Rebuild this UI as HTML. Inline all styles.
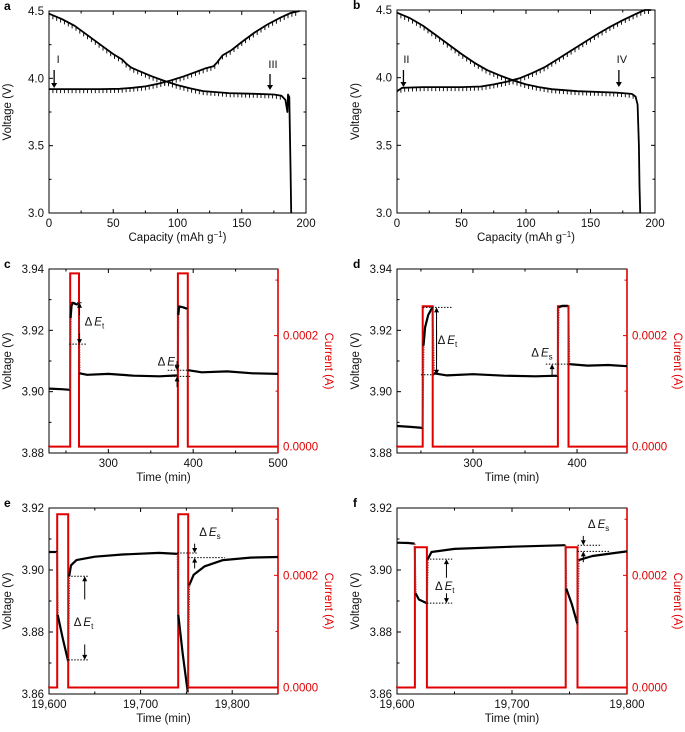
<!DOCTYPE html>
<html><head><meta charset="utf-8"><style>
html,body{margin:0;padding:0;background:#fff}
svg{display:block;font-family:"Liberation Sans",Arial,sans-serif}
</style></head><body>
<svg id="fig" width="685" height="732" viewBox="0 0 685 732"></svg>
<script>
// ---------- Panel a/b data (capacity mAh/g, voltage V) ----------
const aCharge = [[0,3.92],[20,3.92],[40,3.92],[55,3.922],[65,3.93],[75,3.94],[85,3.96],[95,3.985],[105,4.015],[115,4.05],[122,4.075],[128,4.09],[131,4.12],[135,4.17],[142,4.21],[150,4.27],[160,4.34],[170,4.40],[180,4.45],[188,4.485],[195,4.5]];
const aDischarge = [[0,4.48],[10,4.44],[20,4.39],[30,4.32],[40,4.25],[50,4.18],[57,4.14],[60,4.11],[64,4.08],[70,4.055],[80,4.015],[90,3.98],[100,3.95],[110,3.925],[120,3.905],[140,3.89],[160,3.885],[175,3.88],[181,3.87],[184,3.84],[185.5,3.75],[186,3.88],[187,3.86],[187.5,3.6],[188,3.3],[188.5,3.0]];
const bCharge = [[0,3.90],[4,3.925],[20,3.93],[50,3.93],[65,3.935],[75,3.95],[85,3.97],[95,3.995],[105,4.035],[115,4.08],[125,4.14],[135,4.2],[145,4.26],[155,4.32],[165,4.375],[175,4.425],[185,4.47],[192,4.5],[197,4.5]];
const bDischarge = [[0,4.48],[10,4.44],[20,4.385],[30,4.315],[40,4.245],[50,4.175],[60,4.11],[70,4.055],[80,4.015],[90,3.98],[100,3.95],[110,3.93],[120,3.915],[140,3.9],[170,3.89],[182,3.88],[185,3.86],[186.5,3.8],[187.5,3.5],[188,3.2],[188.5,3.0]];
const capTicks = [0,50,100,150,200];
const capMinor = [25,75,125,175];
const vTicksAB = [3.0,3.5,4.0,4.5];
const vMinorAB = [3.25,3.75,4.25];

// ---------- Panel c data ----------
const cSegs = [
 [[230,3.901],[245,3.9008],[254.8,3.9006]],
 [[255.5,3.924],[256.5,3.928],[258,3.929],[262,3.9285],[265.2,3.9285]],
 [[266,3.906],[275,3.9055],[300,3.9058],[330,3.9052],[360,3.905],[381.8,3.9053]],
 [[382.5,3.925],[383.5,3.9278],[388,3.9275],[393.4,3.927]],
 [[394,3.907],[410,3.9063],[440,3.9066],[470,3.906],[500,3.9058]]
];
const cCurT = [230,255,265.4,382,393.6,500];
const cCurI = [0,0.000312,0,0.000312,0];
// ---------- Panel d data ----------
const dSegs = [
 [[227,3.8888],[240,3.8885],[251.5,3.8882]],
 [[252.5,3.915],[254,3.921],[257,3.925],[261,3.9275]],
 [[262.5,3.906],[275,3.9053],[300,3.9057],[330,3.9052],[360,3.905],[381.4,3.9052]],
 [[382.3,3.9275],[386,3.928],[391.6,3.928]],
 [[392.5,3.909],[410,3.9085],[430,3.9087],[448,3.9083]]
];
const dCurT = [227,251.7,261.3,381.6,391.8,448];
const dCurI = [0,0.000253,0,0.000253,0];
// ---------- Panel e data ----------
const eSegs = [
 [[19600,3.9058],[19608.8,3.9058]],
 [[19609.5,3.8855],[19615,3.878],[19621,3.8705]],
 [[19622,3.898],[19624,3.9015],[19630,3.9032],[19650,3.9043],[19680,3.905],[19720,3.9055],[19740.5,3.9052]],
 [[19741.2,3.8855],[19746,3.873],[19751.5,3.8605]],
 [[19753,3.895],[19758,3.8985],[19770,3.9012],[19790,3.9032],[19820,3.904],[19850,3.9042]]
];
const eCurT = [19600,19609,19621,19741,19752,19850];
const eCurI = [0,0.000309,0,0.000309,0];
// ---------- Panel f data ----------
const fSegs = [
 [[19600,3.9088],[19610,3.9087],[19615.3,3.9085]],
 [[19616.2,3.8925],[19619,3.8905],[19626,3.8893]],
 [[19626.8,3.9035],[19630,3.9058],[19650,3.9068],[19700,3.9075],[19746.4,3.908]],
 [[19747.2,3.894],[19752,3.889],[19757,3.8825]],
 [[19758,3.9032],[19770,3.9045],[19790,3.9055],[19800,3.906]]
];
const fCurT = [19600,19615.6,19626,19746.7,19757,19800];
const fCurI = [0,0.00025,0,0.00025,0];

const vTicksCD = [3.88,3.90,3.92,3.94];
const vMinorCD = [3.89,3.91,3.93];
const vTicksEF = [3.86,3.88,3.90,3.92];
const vMinorEF = [3.87,3.89,3.91];
const curTicks = [0,0.0002];
const curTickLabels = ["0.0000","0.0002"];
const curMinor = [0.0001,0.0003];

const NS = "http://www.w3.org/2000/svg";
const svg = document.getElementById("fig");
function el(tag, attrs, parent){
  const e = document.createElementNS(NS, tag);
  for (const k in attrs) e.setAttribute(k, attrs[k]);
  (parent||svg).appendChild(e);
  return e;
}
function lin(d0,d1,r0,r1){return v=>r0+(v-d0)/(d1-d0)*(r1-r0);}

function axes(P){
  const g = el("g",{});
  
  
  P.g = g;
  P.x = lin(P.xd[0],P.xd[1],P.l,P.r);
  P.y = lin(P.yd[0],P.yd[1],P.b,P.t);
  const fr = el("rect",{x:P.l,y:P.t,width:P.r-P.l,height:P.b-P.t,fill:"none",stroke:"#000","stroke-width":1},g);
  
  
  P.xt.forEach((v,i)=>{
    const X=P.x(v);
    el("line",{x1:X,x2:X,y1:P.b,y2:P.b-4,stroke:"#000"},g);
    el("line",{x1:X,x2:X,y1:P.t,y2:P.t+4,stroke:"#000"},g);
    const t=el("text",{x:X,y:P.b+14,"font-size":11.5,"text-anchor":"middle",fill:"#111"},g);
    t.textContent=P.xl?P.xl[i]:String(v);
    
    
  });
  P.xm.forEach(v=>{const X=P.x(v);
    el("line",{x1:X,x2:X,y1:P.b,y2:P.b-2.5,stroke:"#000"},g);
    el("line",{x1:X,x2:X,y1:P.t,y2:P.t+2.5,stroke:"#000"},g);});
  P.yt.forEach(v=>{const Y=P.y(v);
    el("line",{x1:P.l,x2:P.l+4,y1:Y,y2:Y,stroke:"#000"},g);
    if(!P.cur) el("line",{x1:P.r,x2:P.r-4,y1:Y,y2:Y,stroke:"#000"},g);
    const t=el("text",{x:P.l-5,y:Y+4,"font-size":11.5,"text-anchor":"end",fill:"#111"},g);
    t.textContent=v.toFixed(P.yf);
    
    
  });
  P.ym.forEach(v=>{const Y=P.y(v);
    el("line",{x1:P.l,x2:P.l+2.5,y1:Y,y2:Y,stroke:"#000"},g);
    if(!P.cur) el("line",{x1:P.r,x2:P.r-2.5,y1:Y,y2:Y,stroke:"#000"},g);});
  const yt=el("text",{x:0,y:0,"font-size":11.5,"text-anchor":"middle",fill:"#111",transform:`translate(${P.l-38},${(P.t+P.b)/2}) rotate(-90)`},g);
  yt.textContent="Voltage (V)";
  
  
  const xt=el("text",{x:(P.l+P.r)/2,y:P.b+28,"font-size":11.5,"text-anchor":"middle",fill:"#111"},g);
  if(P.cur){xt.textContent="Time (min)";}
  else{xt.textContent="Capacity (mAh g";const s=el("tspan",{"baseline-shift":"super","font-size":8},xt);s.textContent="\u22121";const s2=el("tspan",{},xt);s2.textContent=")";}
  
  
  const lb=el("text",{x:P.lx,y:P.t-1,"font-size":12,"font-weight":"bold",fill:"#000"},g);
  lb.textContent=P.id;
  
  
  if(P.cur){
    P.c = lin(-0.0000115,0.00032,P.b,P.t);
    const ra=el("line",{x1:P.r,x2:P.r,y1:P.t,y2:P.b,stroke:"#e00000","stroke-width":1.6},g);
    
    
    curTicks.forEach((v,i)=>{const Y=P.c(v);
      el("line",{x1:P.r,x2:P.r-4,y1:Y,y2:Y,stroke:"#e00000"},g);
      const t=el("text",{x:P.r+5,y:Y+4,"font-size":11.5,fill:"#e00000"},g);
      t.textContent=curTickLabels[i];
      
      });
    curMinor.forEach(v=>{const Y=P.c(v);el("line",{x1:P.r,x2:P.r-2.5,y1:Y,y2:Y,stroke:"#e00000"},g);});
    const ct=el("text",{x:0,y:0,"font-size":11.5,"text-anchor":"middle",fill:"#e00000",transform:`translate(${P.r+47},${(P.t+P.b)/2}) rotate(90)`},g);
    ct.textContent="Current (A)";
    
    
  }
}
function poly(P,pts,name,w){
  const p=el("polyline",{points:pts.map(q=>P.x(q[0]).toFixed(1)+","+P.y(q[1]).toFixed(1)).join(" "),fill:"none",stroke:"#000","stroke-width":w||2,"stroke-linejoin":"round"},P.g);
  
  
}
function gittTicks(P,pts,name){
  let d="";
  for(let i=0;i<pts.length-1;i++){
    const [x0,y0]=pts[i],[x1,y1]=pts[i+1];
    for(let x=Math.ceil(x0/3)*3;x<x1;x+=3){
      const yv=y0+(y1-y0)*(x-x0)/(x1-x0);
      if(yv<3.86) continue;
      const X=P.x(x),Y=P.y(yv);
      d+=`M${X.toFixed(1)},${Y.toFixed(1)}v4`;
    }
  }
  const p=el("path",{d:d,stroke:"#000","stroke-width":0.9,fill:"none"},P.g);
  
  
}
function arrowDown(P,xv,y0,y1,txt,ty){
  const X=P.x(xv);
  const l=el("line",{x1:X,x2:X,y1:y0,y2:y1-4,stroke:"#000","stroke-width":1.3},P.g);
  
  
  el("path",{d:`M${X-3},${y1-5}L${X+3},${y1-5}L${X},${y1}Z`,fill:"#000"},P.g);
  const t=el("text",{x:X+(txt.length>1?3:4),y:ty,"font-size":11,"text-anchor":"middle",fill:"#111"},P.g);
  t.textContent=txt;
  
  
}
function voltage(P,segs){
  segs.forEach((s,i)=>{
    poly(P,s,'voltage-segment',2.2);
    if(i<segs.length-1){
      const a=s[s.length-1],b=segs[i+1][0];
      const l=el("line",{x1:P.x(a[0]),y1:P.y(a[1]),x2:P.x(b[0]),y2:P.y(b[1]),stroke:"#a02828","stroke-width":2,"stroke-dasharray":"1.2 1.3"},P.g);
      
      
    }
  });
}
function current(P,T,I){
  let d=`M${P.x(T[0])},${P.c(I[0])}`;
  for(let i=0;i<I.length;i++){
    d+=`L${P.x(T[i]).toFixed(1)},${P.c(I[i]).toFixed(1)}L${P.x(T[i+1]).toFixed(1)},${P.c(I[i]).toFixed(1)}`;
  }
  const p=el("path",{d:d,fill:"none",stroke:"#e00000","stroke-width":2},P.g);
  
  
}
function hdot(P,x0,x1,v){
  const l=el("line",{x1:P.x(x0),x2:P.x(x1),y1:P.y(v),y2:P.y(v),stroke:"#000","stroke-width":1,"stroke-dasharray":"1.5 1.5"},P.g);
  
  
}
function varrow(P,xv,vFrom,vTo){
  const X=P.x(xv),Y0=P.y(vFrom),Y1=P.y(vTo),dir=Y1>Y0?1:-1;
  el("line",{x1:X,x2:X,y1:Y0,y2:Y1-dir*4,stroke:"#000","stroke-width":1},P.g);
  const a=el("path",{d:`M${X-2.5},${Y1-dir*5}L${X+2.5},${Y1-dir*5}L${X},${Y1}Z`,fill:"#000"},P.g);
  
  
}
function dlabel(P,xv,v,sub){
  const t=el("text",{x:P.x(xv),y:P.y(v),"font-size":11.5,fill:"#111"},P.g);
  t.textContent="\u0394";
  const e=el("tspan",{"font-style":"italic",dx:2},t);e.textContent="E";
  const s=el("tspan",{"font-size":8,dy:3},t);s.textContent=sub;
  
  
}

// ---- Panel a
const A={id:"a",l:49,r:306,t:11,b:213,lx:4,xd:[0,200],yd:[3,4.5],xt:capTicks,xm:capMinor,yt:vTicksAB,ym:vMinorAB,yf:1};
axes(A);
gittTicks(A,aCharge,'charge-gitt-marks');gittTicks(A,aDischarge,'discharge-gitt-marks');
poly(A,aCharge,'charge-curve',1.8);poly(A,aDischarge,'discharge-curve',1.8);
arrowDown(A,4,70,88,"I",63);arrowDown(A,172,74,90,"III",68);
// ---- Panel b
const B={id:"b",l:397,r:655,t:10,b:213,lx:353,xd:[0,200],yd:[3,4.5],xt:capTicks,xm:capMinor,yt:vTicksAB,ym:vMinorAB,yf:1};
axes(B);
gittTicks(B,bCharge,'charge-gitt-marks');gittTicks(B,bDischarge,'discharge-gitt-marks');
poly(B,bCharge,'charge-curve',1.8);poly(B,bDischarge,'discharge-curve',1.8);
arrowDown(B,5,70,87,"II",63);arrowDown(B,172,70,87,"IV",63);
// ---- Panel c
const C={id:"c",cur:true,l:49,r:278,t:269,b:453,lx:4,xd:[230,500],yd:[3.88,3.94],xt:[300,400,500],xm:[250,350,450],yt:vTicksCD,ym:vMinorCD,yf:2};
axes(C);current(C,cCurT,cCurI);voltage(C,cSegs);
hdot(C,256,270,3.929);hdot(C,254,275,3.9155);varrow(C,266,3.925,3.929);varrow(C,266,3.919,3.9155);
dlabel(C,272,3.9215,"t");
hdot(C,370,393,3.907);hdot(C,370,398,3.905);varrow(C,381,3.910,3.907);varrow(C,381,3.9015,3.905);
dlabel(C,358,3.9085,"s");
// ---- Panel d
const D={id:"d",cur:true,l:397,r:627,t:269,b:453,lx:353,xd:[227,448],yd:[3.88,3.94],xt:[300,400],xm:[250,350],yt:vTicksCD,ym:vMinorCD,yf:2};
axes(D);current(D,dCurT,dCurI);voltage(D,dSegs);
hdot(D,252,280,3.9275);hdot(D,250,264,3.9055);varrow(D,265,3.9105,3.9275);varrow(D,265,3.92,3.9055);
dlabel(D,266,3.9155,"t");
hdot(D,370,392,3.909);hdot(D,370,382,3.905);varrow(D,376,3.905,3.909);
dlabel(D,356,3.9115,"s");
// ---- Panel e
const E={id:"e",cur:true,l:49,r:278,t:508,b:694,lx:4,xd:[19600,19850],yd:[3.86,3.92],xt:[19600,19700,19800],xl:["19,600","19,700","19,800"],xm:[19650,19750],yt:vTicksEF,ym:vMinorEF,yf:2};
axes(E);current(E,eCurT,eCurI);voltage(E,eSegs);
hdot(E,19621,19643,3.898);hdot(E,19621,19643,3.871);varrow(E,19639,3.8905,3.898);varrow(E,19639,3.876,3.871);
dlabel(E,19627,3.882,"t");
hdot(E,19740,19762,3.9055);hdot(E,19752,19792,3.904);varrow(E,19759,3.9085,3.9055);varrow(E,19759,3.9005,3.904);
dlabel(E,19764,3.911,"s");
// ---- Panel f
const F={id:"f",cur:true,l:397,r:627,t:508,b:694,lx:353,xd:[19600,19800],yd:[3.86,3.92],xt:[19600,19700,19800],xl:["19,600","19,700","19,800"],xm:[19650,19750],yt:vTicksEF,ym:vMinorEF,yf:2};
axes(F);current(F,fCurT,fCurI);voltage(F,fSegs);
hdot(F,19626,19648,3.9035);hdot(F,19626,19648,3.8893);varrow(F,19643,3.8975,3.9035);varrow(F,19643,3.8925,3.8893);
dlabel(F,19633,3.8935,"t");
hdot(F,19757,19778,3.908);hdot(F,19757,19785,3.906);varrow(F,19762,3.911,3.908);varrow(F,19762,3.9025,3.906);
dlabel(F,19766,3.9135,"s");
</script>
</body></html>
